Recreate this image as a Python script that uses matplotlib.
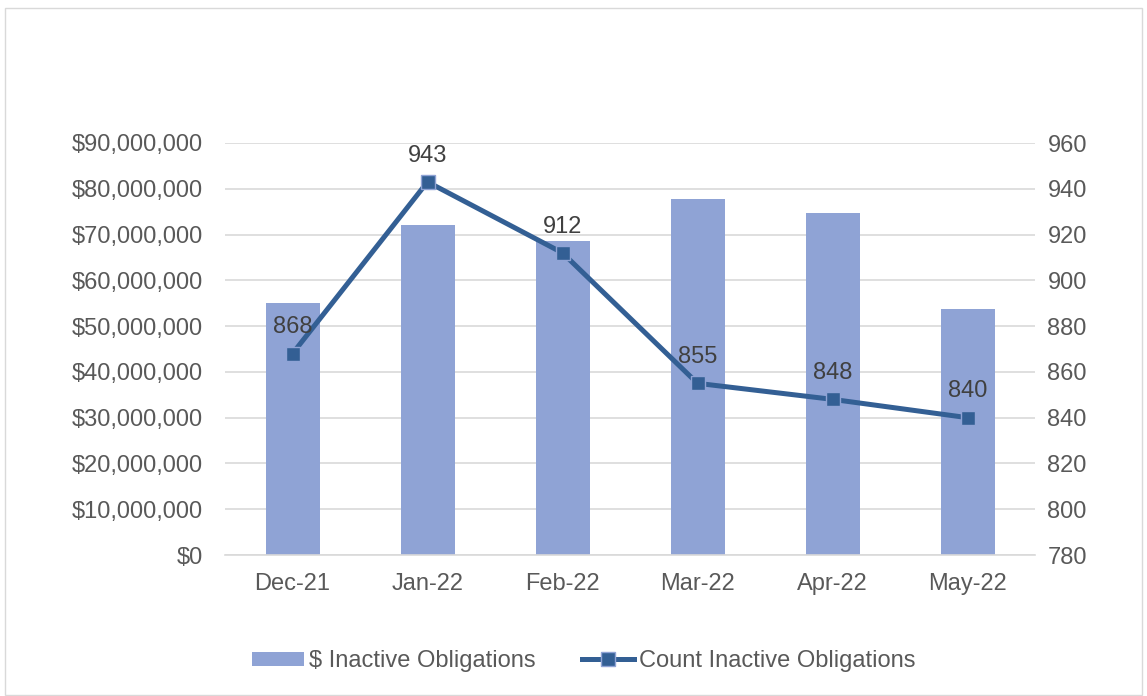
import matplotlib.pyplot as plt
from matplotlib.patches import Rectangle
from matplotlib.ticker import FuncFormatter

plt.rcParams['font.family'] = ['Liberation Sans', 'DejaVu Sans']

months = ['Dec-21', 'Jan-22', 'Feb-22', 'Mar-22', 'Apr-22', 'May-22']
dollars = [55000000, 72000000, 68600000, 77800000, 74700000, 53700000]
counts = [868, 943, 912, 855, 848, 840]

bar_color = '#8FA3D5'
line_color = '#335F94'
tick_color = '#595959'
label_color = '#404040'
fs = 17

fig = plt.figure(figsize=(11.47, 6.96), dpi=100)
# outer chart frame
fig.patches.append(Rectangle((5 / 1147, 0.002), 1137 / 1147, 1 - 8 / 696 - 0.002,
                             transform=fig.transFigure, fill=False,
                             edgecolor='#D9D9D9', linewidth=1))

ax = fig.add_axes([225 / 1147, 1 - 555 / 696, 810 / 1147, 412 / 696])
x = range(len(months))
bars = ax.bar(x, dollars, width=0.4, color=bar_color, label='$ Inactive Obligations', zorder=2)
ax.set_xlim(-0.5, len(months) - 0.5)
ax.set_ylim(0, 90000000)
ax.set_yticks(range(0, 90000001, 10000000))
ax.yaxis.set_major_formatter(FuncFormatter(lambda v, p: f'${v:,.0f}'))
ax.set_xticks(list(x))
ax.set_xticklabels(months)
ax.grid(axis='y', color='#D9D9D9', linewidth=1.2, zorder=0)
ax.set_axisbelow(True)
for s in ax.spines.values():
    s.set_visible(False)
ax.spines['bottom'].set_visible(True)
ax.spines['bottom'].set_color('#D9D9D9')
ax.spines['bottom'].set_linewidth(1.2)
ax.tick_params(axis='both', length=0, labelsize=fs, labelcolor=tick_color)
ax.tick_params(axis='y', pad=16)
ax.tick_params(axis='x', pad=13)

ax2 = ax.twinx()
line, = ax2.plot(x, counts, color=line_color, linewidth=3.6, marker='s', markersize=9.5,
                 markerfacecolor=line_color, markeredgecolor='#8FA3D5', markeredgewidth=1,
                 label='Count Inactive Obligations', zorder=3)
ax2.set_ylim(780, 960)
ax2.set_yticks(range(780, 961, 20))
for s in ax2.spines.values():
    s.set_visible(False)
ax2.tick_params(axis='y', length=0, labelsize=fs, labelcolor=tick_color, pad=9)

for xi, c in zip(x, counts):
    ax2.annotate(str(c), (xi, c), xytext=(0, 11), textcoords='offset points',
                 ha='center', va='bottom', fontsize=fs, color=label_color)

fig.legend(handles=[bars, line], loc='center', bbox_to_anchor=(0.509, 1 - 661 / 696),
           ncol=2, frameon=False, fontsize=fs, labelcolor=tick_color,
           handlelength=2.2, handleheight=0.55, handletextpad=0.2, columnspacing=2.0)

fig.savefig('out.png', dpi=100)
